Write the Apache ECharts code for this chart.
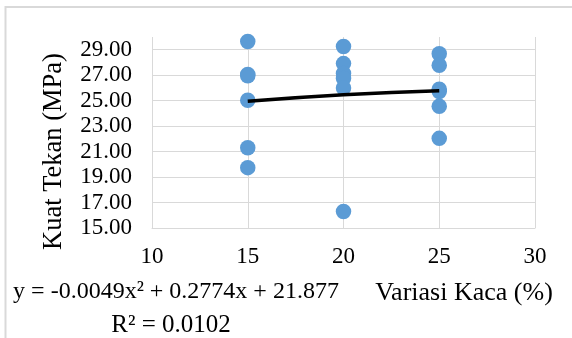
<!DOCTYPE html>
<html>
<head>
<meta charset="utf-8">
<script src="https://cdn.jsdelivr.net/npm/echarts@6/dist/echarts.min.js"></script>
<style>
  html, body { margin: 0; padding: 0; background: #fff; }
  #chart { width: 572px; height: 338px; }
</style>
</head>
<body>
<div id="chart"></div>
<script>
// glass variation (%) and compressive strength readings (MPa)
var kaca15 = [29.65, 27.05, 26.95, 25.04, 21.31, 19.74];
var kaca20 = [29.26, 27.91, 27.13, 26.74, 26.0, 16.3];
var kaca25 = [28.69, 27.78, 25.9, 25.72, 24.56, 22.04];

// poly trendline values read at 15, 20, 25
var trendX = [15, 20, 25];
var trendY = [24.95, 25.47, 25.78];

var yTicks = [15, 17, 19, 21, 23, 25, 27, 29];
var xTicks = [10, 15, 20, 25, 30];

var eqText = 'y = -0.0049x² + 0.2774x + 21.877';
var r2Text = 'R² = 0.0102';

function pairs(x, arr) {
  return arr.map(function (v) { return [x, v]; });
}

var points = pairs(15, kaca15).concat(pairs(20, kaca20), pairs(25, kaca25));
var trend = trendX.map(function (x, i) { return [x, trendY[i]]; });

var serif = '"Liberation Serif", "Times New Roman", serif';
var gridColor = '#d9d9d9';

var chart = echarts.init(document.getElementById('chart'));

chart.setOption({
  animation: false,
  grid: {
    left: 152,
    right: 37,
    top: 37,
    bottom: 110,
    outerBoundsMode: 'none'
  },
  xAxis: {
    type: 'value',
    min: xTicks[0],
    max: xTicks[xTicks.length - 1],
    interval: 5,
    axisLine: { show: true, lineStyle: { color: gridColor, width: 1 } },
    axisTick: { show: false },
    axisLabel: {
      margin: 17,
      color: '#000',
      fontFamily: serif,
      fontSize: 23
    },
    splitLine: { show: true, lineStyle: { color: gridColor, width: 1 } }
  },
  yAxis: {
    type: 'value',
    min: yTicks[0],
    max: 30,
    interval: 2,
    axisLine: { show: false },
    axisTick: { show: false },
    axisLabel: {
      margin: 20,
      color: '#000',
      fontFamily: serif,
      fontSize: 23,
      showMaxLabel: false,
      formatter: function (v) { return v.toFixed(2); }
    },
    splitLine: {
      show: true,
      showMaxLine: false,
      lineStyle: { color: gridColor, width: 1 }
    }
  },
  graphic: [
    {
      type: 'polyline',
      shape: { points: [[5.5, 340], [5.5, 7], [580, 7]] },
      style: { stroke: gridColor, lineWidth: 2, fill: null },
      silent: true
    },
    {
      type: 'text',
      x: 54,
      y: 151.5,
      rotation: Math.PI / 2,
      style: {
        text: 'Kuat Tekan (MPa)',
        fill: '#000',
        font: '26.5px ' + serif,
        textAlign: 'center',
        textVerticalAlign: 'middle'
      }
    },
    {
      type: 'text',
      x: 464,
      y: 293,
      style: {
        text: 'Variasi Kaca (%)',
        fill: '#000',
        font: '26px ' + serif,
        textAlign: 'center',
        textVerticalAlign: 'middle'
      }
    },
    {
      type: 'text',
      x: 176,
      y: 292,
      style: {
        text: eqText,
        fill: '#000',
        font: '24px ' + serif,
        textAlign: 'center',
        textVerticalAlign: 'middle'
      }
    },
    {
      type: 'text',
      x: 171,
      y: 325,
      style: {
        text: r2Text,
        fill: '#000',
        font: '25px ' + serif,
        textAlign: 'center',
        textVerticalAlign: 'middle'
      }
    }
  ],
  series: [
    {
      name: 'Kuat Tekan',
      type: 'scatter',
      symbol: 'circle',
      symbolSize: 15.5,
      itemStyle: { color: '#5b9bd5', opacity: 1 },
      data: points,
      z: 2
    },
    {
      name: 'Poly. (Kuat Tekan)',
      type: 'line',
      smooth: true,
      showSymbol: false,
      lineStyle: { color: '#000', width: 3.5 },
      data: trend,
      z: 3
    }
  ]
});
</script>
</body>
</html>
